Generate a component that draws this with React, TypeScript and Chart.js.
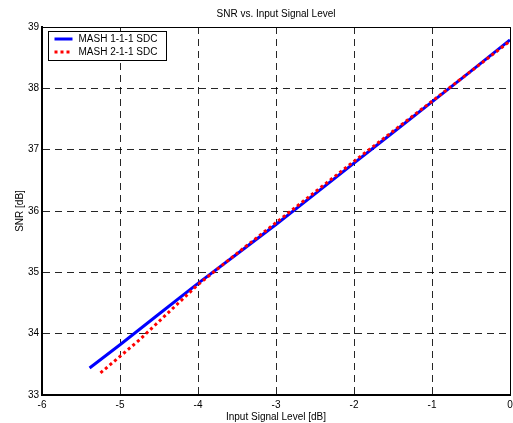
import React, { useEffect, useRef } from "react";
import { Chart, registerables } from "chart.js";

Chart.register(...registerables);

const TITLE = "SNR vs. Input Signal Level";
const X_LABEL = "Input Signal Level [dB]";
const Y_LABEL = "SNR [dB]";
const SERIES_NAMES = ["MASH 1-1-1 SDC", "MASH 2-1-1 SDC"];

const blueX = [-5.39, -5.0, -4.5, -4.0, -3.5, -3.0, -2.5, -2.0, -1.5, -1.0, -0.5, 0.0];
const blueY = [33.44, 33.82, 34.32, 34.82, 35.3, 35.78, 36.28, 36.78, 37.28, 37.78, 38.28, 38.79];

const redX = [-5.25, -5.0, -4.75, -4.5, -4.25, -4.0, -3.5, -3.0, -2.5, -2.0, -1.5, -1.0, -0.5, 0.0];
const redY = [33.36, 33.63, 33.9, 34.2, 34.5, 34.8, 35.31, 35.81, 36.31, 36.81, 37.3, 37.79, 38.28, 38.77];

const FONT = "'Liberation Sans', Arial, Helvetica, sans-serif";

const boxAndLegend = {
  id: "boxAndLegend",
  afterDraw(chart: any) {
    const { ctx, chartArea } = chart;
    ctx.save();
    ctx.strokeStyle = "#000";
    ctx.lineWidth = 1;
    const l = Math.round(chartArea.left);
    const t = Math.round(chartArea.top);
    const r = Math.round(chartArea.right);
    const b = Math.round(chartArea.bottom);
    ctx.beginPath();
    ctx.moveTo(l, t + 0.5);
    ctx.lineTo(r + 0.5, t + 0.5);
    ctx.lineTo(r + 0.5, b);
    ctx.stroke();
    ctx.font = `10px ${FONT}`;
    const ds = chart.data.datasets;
    let maxW = 0;
    ds.forEach((d: any) => {
      maxW = Math.max(maxW, ctx.measureText(d.label).width);
    });
    const bx = l + 6.5;
    const by = t + 4.5;
    const bw = Math.round(30 + maxW + 9);
    const bh = 29;
    ctx.fillStyle = "#fff";
    ctx.fillRect(bx, by, bw, bh);
    ctx.strokeStyle = "#000";
    ctx.lineWidth = 1;
    ctx.strokeRect(bx, by, bw, bh);
    ds.forEach((d: any, i: number) => {
      const y = by + 7.5 + i * 13;
      ctx.save();
      ctx.strokeStyle = d.borderColor;
      ctx.lineWidth = d.borderWidth;
      ctx.setLineDash(d.borderDash || []);
      ctx.beginPath();
      ctx.moveTo(bx + 6, y);
      ctx.lineTo(bx + 24, y);
      ctx.stroke();
      ctx.restore();
      ctx.fillStyle = "#000";
      ctx.textBaseline = "middle";
      ctx.textAlign = "left";
      ctx.fillText(d.label, bx + 30, y);
    });
    ctx.restore();
  },
};

export default function App() {
  const ref = useRef<HTMLCanvasElement>(null);
  useEffect(() => {
    if (!ref.current) return;
    const chart = new Chart(ref.current, {
      type: "line",
      data: {
        datasets: [
          {
            label: SERIES_NAMES[0],
            data: blueX.map((x, i) => ({ x, y: blueY[i] })),
            borderColor: "#0000ff",
            borderWidth: 3,
            pointRadius: 0,
            tension: 0,
            fill: false,
            order: 2,
          },
          {
            label: SERIES_NAMES[1],
            data: redX.map((x, i) => ({ x, y: redY[i] })),
            borderColor: "#ff0000",
            borderWidth: 3,
            borderDash: [3, 3],
            pointRadius: 0,
            tension: 0,
            fill: false,
            order: 1,
          },
        ],
      },
      options: {
        animation: false,
        responsive: false,
        layout: { padding: { left: 0, right: 3, top: 0, bottom: 0 } },
        plugins: {
          legend: { display: false },
          tooltip: { enabled: false },
          title: {
            display: true,
            text: TITLE,
            fullSize: false,
            color: "#000",
            font: { family: FONT, size: 10, weight: "normal" },
            padding: { top: 8, bottom: 7 },
          },
        },
        scales: {
          x: {
            type: "linear",
            min: -6,
            max: 0,
            ticks: {
              stepSize: 1,
              color: "#000",
              padding: 4,
              font: { family: FONT, size: 10 },
            },
            grid: { color: "rgba(0,0,0,0.85)", lineWidth: 1, drawTicks: false },
            border: { display: true, color: "#000", width: 2, dash: [7, 5] },
            title: {
              display: true,
              text: X_LABEL,
              color: "#000",
              font: { family: FONT, size: 10 },
              padding: { top: 0, bottom: 0 },
            },
            afterFit: (s: any) => {
              s.height = 28;
              s.paddingRight = 0;
              s.paddingLeft = 0;
            },
          },
          y: {
            type: "linear",
            min: 33,
            max: 39,
            ticks: {
              stepSize: 1,
              color: "#000",
              padding: 3,
              font: { family: FONT, size: 10 },
            },
            grid: { color: "rgba(0,0,0,0.85)", lineWidth: 1, drawTicks: false },
            border: { display: true, color: "#000", width: 2, dash: [7, 5] },
            title: {
              display: true,
              text: Y_LABEL,
              color: "#000",
              font: { family: FONT, size: 10 },
              padding: { top: 14, bottom: 0 },
            },
            afterFit: (s: any) => {
              s.width = 42;
              s.paddingTop = 0;
              s.paddingBottom = 0;
            },
          },
        },
      } as any,
      plugins: [boxAndLegend],
    });
    return () => chart.destroy();
  }, []);
  return (
    <div style={{ position: "fixed", left: 0, top: 0, width: 513, height: 423, background: "#fff" }}>
      <canvas ref={ref} width={513} height={423} style={{ width: 513, height: 423, display: "block" }} />
    </div>
  );
}
